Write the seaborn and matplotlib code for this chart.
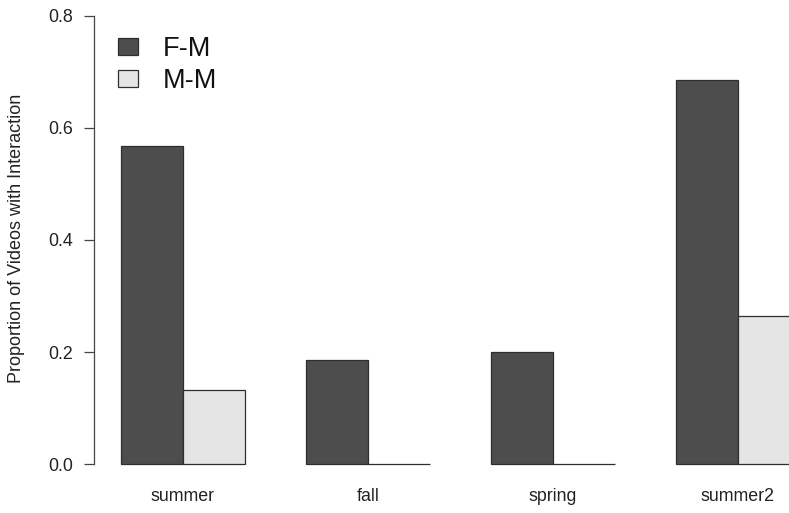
import matplotlib
matplotlib.use("Agg")
import matplotlib.pyplot as plt
import seaborn as sns
import pandas as pd

# Proportion of videos showing interaction, by season and pair type
seasons = ["summer", "fall", "spring", "summer2"]
pair_types = ["F-M", "M-M"]
fm_values = [0.567, 0.186, 0.200, 0.686]
mm_values = [0.133, 0.0, 0.0, 0.264]
y_ticks = [0.0, 0.2, 0.4, 0.6, 0.8]

df = pd.DataFrame({
    "season": seasons * 2,
    "pair": [pair_types[0]] * len(seasons) + [pair_types[1]] * len(seasons),
    "prop": fm_values + mm_values,
})

sns.set_theme(style="white")
plt.rcParams["font.family"] = ["Liberation Sans", "DejaVu Sans"]

fig = plt.figure(figsize=(7.89, 5.13), dpi=100)
ax = fig.add_axes([94 / 789, (513 - 482) / 513, 1 - 94 / 789, (482 + 2) / 513])

sns.barplot(
    data=df, x="season", y="prop", hue="pair", order=seasons, hue_order=pair_types,
    palette={"F-M": "#4d4d4d", "M-M": "#e5e5e5"}, width=2 / 3, saturation=1,
    edgecolor="#2e2e2e", linewidth=0.9, ax=ax, legend=True,
)

ax.set_xlim(-0.481, 3.276)
ax.set_ylim(-0.032, 0.832)

for s in ["top", "right", "bottom"]:
    ax.spines[s].set_visible(False)
ax.spines["left"].set_bounds(0, 0.8)
ax.spines["left"].set_color("#444444")
ax.spines["left"].set_linewidth(0.9)

ax.set_yticks(y_ticks)
ax.set_yticklabels([f"{t:.1f}" for t in y_ticks])
ax.tick_params(axis="y", length=7, width=0.9, color="#444444", labelsize=12.8,
               pad=8, labelcolor="#222222", left=True)
ax.tick_params(axis="x", length=0, labelsize=12.8, pad=4, labelcolor="#222222")

ax.set_xlabel("")
ax.set_ylabel("Proportion of Videos with Interaction", fontsize=13,
              color="#222222")
ax.yaxis.set_label_coords(-(94 - 25) / (789 - 94), (482 - 238) / 484)

handles, labels = ax.get_legend_handles_labels()
leg = ax.legend(
    handles, labels, loc="upper left", bbox_to_anchor=(118 / 789, 1 - 36 / 513),
    bbox_transform=fig.transFigure, frameon=False, fontsize=19.5,
    handlelength=0.74, handleheight=0.63, handletextpad=0.92, labelspacing=0.22,
    borderpad=0, borderaxespad=0,
)
for t in leg.get_texts():
    t.set_color("#111111")

fig.savefig("out.png", dpi=100)
